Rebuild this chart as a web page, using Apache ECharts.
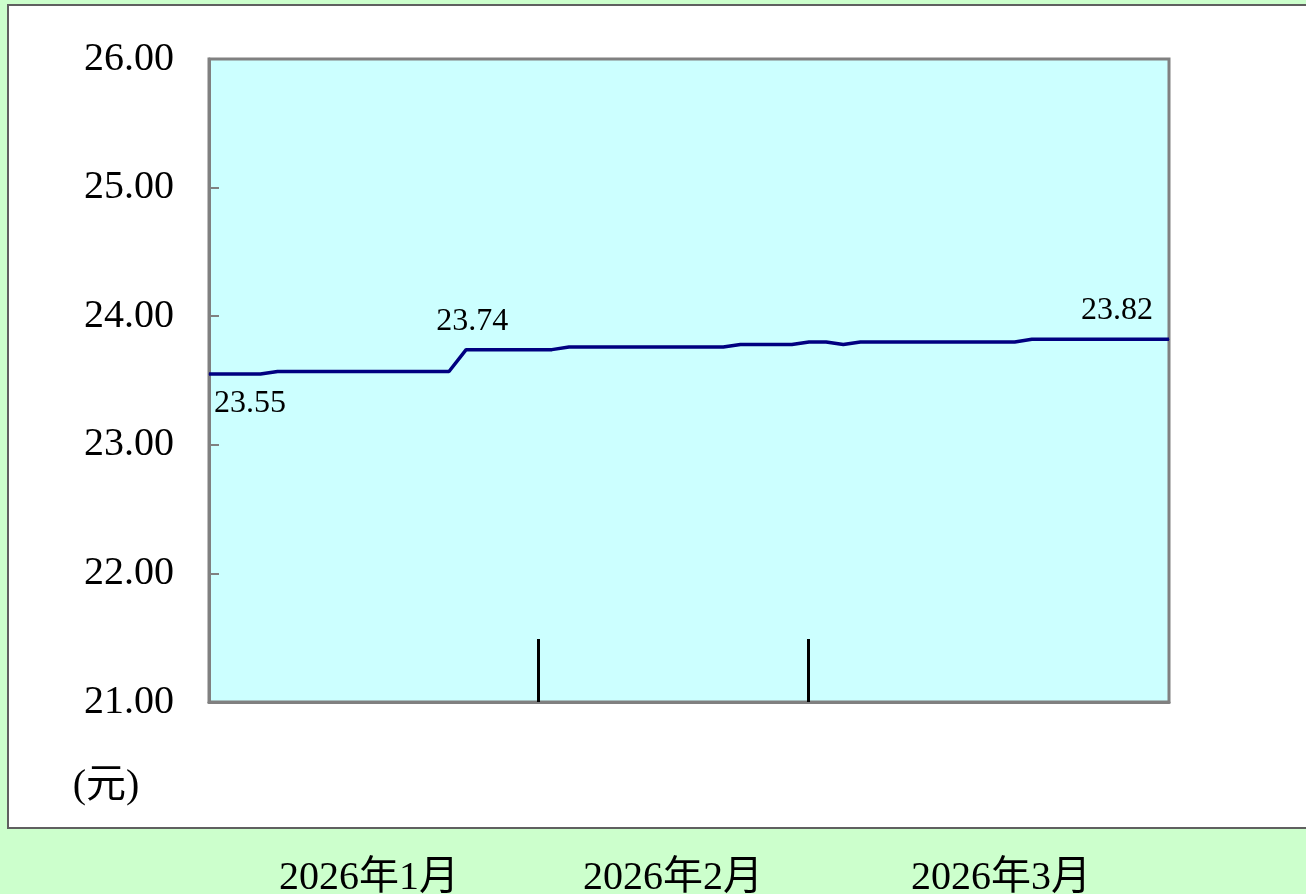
<!DOCTYPE html>
<html>
<head>
<meta charset="utf-8">
<script src="https://cdn.jsdelivr.net/npm/echarts@6/dist/echarts.min.js"></script>
<style>
html,body{margin:0;padding:0;background:#CCFFCC;}
#c{width:1306px;height:894px;}
</style>
</head>
<body>
<div id="c"></div>
<script>
// ---- data ----
var prices = [
  23.55, 23.55, 23.55, 23.55,
  23.57, 23.57, 23.57, 23.57, 23.57, 23.57, 23.57, 23.57, 23.57, 23.57, 23.57,
  23.74, 23.74, 23.74, 23.74, 23.74, 23.74,
  23.76, 23.76, 23.76, 23.76, 23.76, 23.76, 23.76, 23.76, 23.76, 23.76,
  23.78, 23.78, 23.78, 23.78,
  23.80, 23.80,
  23.78,
  23.80, 23.80, 23.80, 23.80, 23.80, 23.80, 23.80, 23.80, 23.80, 23.80,
  23.82, 23.82, 23.82, 23.82, 23.82, 23.82, 23.82, 23.82, 23.82
];
var monthLabels = ['2026年1月', '2026年2月', '2026年3月'];
var monthLabelAt = [9.33, 27.07, 46.2];     // day-index where each month label sits
var monthBoundaries = [19.2, 34.95];        // day-index of month separators
var labeledPoints = [0, 15, 56];            // points that carry a value label
var yTicks = [21, 22, 23, 24, 25, 26];
var unitLabel = '(元)';

// ---- build ----
var serif = '"Liberation Serif", "Noto Sans CJK TC", serif';
var labelStyles = {
  0:  { position: 'bottom', offset: [41, 0], distance: 13 },
  15: { position: 'top', offset: [6, 0], distance: 12 },
  56: { position: 'top', offset: [-52, 0], distance: 12 }
};
var seriesData = prices.map(function (v, i) {
  var item = { value: [i, v] };
  if (labeledPoints.indexOf(i) >= 0) {
    var s = labelStyles[i];
    item.label = {
      show: true, position: s.position, offset: s.offset, distance: s.distance,
      formatter: v.toFixed(2), fontFamily: serif, fontSize: 32, color: '#000'
    };
  }
  return item;
});

var chart = echarts.init(document.getElementById('c'));
chart.setOption({
  backgroundColor: '#CCFFCC',
  animation: false,
  graphic: [
    { type: 'rect', z: -10, shape: { x: 8, y: 5, width: 1310, height: 823 },
      style: { fill: '#FFFFFF', stroke: '#606060', lineWidth: 2 } },
    { type: 'text', z: 10, x: 106, y: 786,
      style: { text: unitLabel, font: '40px ' + serif, fill: '#000', align: 'center', verticalAlign: 'middle' } }
  ],
  grid: {
    left: 209, top: 59, width: 960, height: 643,
    outerBoundsMode: 'none', containLabel: false,
    show: true, backgroundColor: '#CCFFFF', borderColor: '#808080', borderWidth: 3
  },
  xAxis: {
    type: 'value', min: 0, max: prices.length - 1,
    splitLine: { show: false },
    axisLine: { show: true, lineStyle: { color: '#808080', width: 3 } },
    axisTick: {
      show: true, inside: true, length: 63, customValues: monthBoundaries,
      lineStyle: { color: '#000', width: 3 }
    },
    axisLabel: {
      show: true, customValues: monthLabelAt, margin: 156,
      fontFamily: serif, fontSize: 40, color: '#000',
      formatter: function (v) {
        var idx = monthLabelAt.indexOf(v);
        return idx >= 0 ? monthLabels[idx] : '';
      }
    }
  },
  yAxis: {
    type: 'value', min: yTicks[0], max: yTicks[yTicks.length - 1], interval: 1,
    splitLine: { show: false },
    axisLine: { show: true, lineStyle: { color: '#808080', width: 3 } },
    axisTick: { show: true, inside: true, length: 10, lineStyle: { color: '#808080', width: 2 } },
    axisLabel: {
      margin: 35, fontFamily: serif, fontSize: 40, color: '#000',
      formatter: function (v) { return v.toFixed(2); }
    }
  },
  series: [{
    type: 'line',
    data: seriesData,
    showSymbol: true,
    symbol: 'circle',
    symbolSize: 1,
    itemStyle: { color: '#000080' },
    lineStyle: { color: '#000080', width: 3.5 },
    label: { show: false }
  }]
});
</script>
</body>
</html>
